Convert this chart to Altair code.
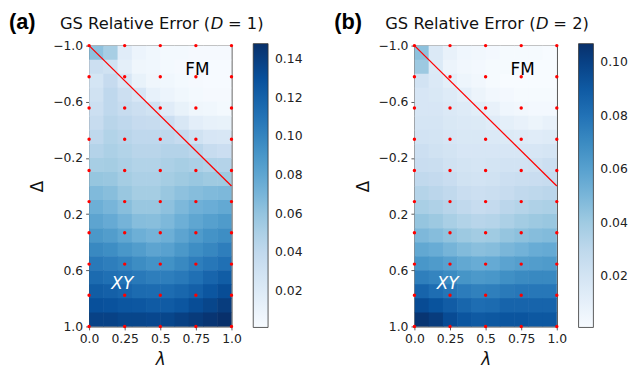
import altair as alt
import pandas as pd

# ---------------- data ----------------
lam_centers = [0.05, 0.15, 0.25, 0.35, 0.45, 0.55, 0.65, 0.75, 0.85, 0.95]
delta_centers = [-0.95, -0.85, -0.75, -0.65, -0.55, -0.45, -0.35, -0.25, -0.15, -0.05,
                 0.05, 0.15, 0.25, 0.35, 0.45, 0.55, 0.65, 0.75, 0.85, 0.95]

# GS relative error (in %), rows = Delta (top to bottom), cols = lambda
err_a_pct = [
    [6.2, 5.2, 1.8, 0.9, 0.6, 0.4, 0.4, 0.3, 0.3, 0.3],
    [3.3, 3.0, 1.5, 0.7, 0.6, 0.4, 0.3, 0.3, 0.2, 0.2],
    [2.7, 3.8, 2.5, 1.2, 0.7, 0.6, 0.4, 0.3, 0.2, 0.2],
    [3.0, 4.1, 3.3, 2.5, 1.3, 0.9, 0.6, 0.4, 0.3, 0.3],
    [3.3, 4.1, 3.7, 3.3, 3.0, 1.8, 1.2, 0.7, 0.6, 0.4],
    [3.7, 4.4, 4.1, 3.8, 3.7, 3.4, 2.4, 1.6, 1.3, 1.2],
    [4.1, 4.7, 4.4, 4.1, 4.1, 4.1, 3.8, 3.0, 2.5, 2.4],
    [4.6, 5.0, 4.7, 4.4, 4.4, 4.6, 4.6, 4.3, 3.7, 3.4],
    [5.2, 5.3, 5.0, 4.7, 4.7, 5.0, 5.2, 5.0, 4.7, 4.6],
    [5.9, 5.8, 5.3, 5.0, 5.0, 5.3, 5.6, 5.8, 5.6, 5.6],
    [6.7, 6.4, 5.8, 5.3, 5.3, 5.8, 6.2, 6.5, 6.7, 6.8],
    [7.4, 7.0, 6.4, 5.8, 5.8, 6.2, 6.8, 7.3, 7.5, 7.8],
    [8.1, 7.7, 7.1, 6.5, 6.4, 6.8, 7.4, 8.0, 8.4, 8.7],
    [8.9, 8.6, 8.0, 7.4, 7.1, 7.4, 8.1, 8.7, 9.2, 9.5],
    [9.8, 9.5, 9.0, 8.6, 8.1, 8.3, 8.9, 9.5, 9.9, 10.4],
    [10.7, 10.4, 10.1, 9.6, 9.2, 9.3, 9.8, 10.4, 10.8, 11.2],
    [11.5, 11.2, 11.0, 10.7, 10.4, 10.4, 10.7, 11.2, 11.8, 12.3],
    [12.3, 12.1, 11.8, 11.5, 11.4, 11.4, 11.7, 12.1, 12.7, 13.2],
    [13.0, 12.9, 12.7, 12.6, 12.4, 12.4, 12.7, 13.2, 13.6, 14.1],
    [13.8, 13.8, 13.6, 13.6, 13.5, 13.6, 13.9, 14.2, 14.5, 14.8],
]

err_b_pct = [
    [4.5, 1.6, 0.9, 0.5, 0.4, 0.3, 0.2, 0.2, 0.2, 0.1],
    [4.1, 1.5, 0.7, 0.4, 0.3, 0.2, 0.2, 0.1, 0.1, 0.1],
    [2.1, 1.6, 1.1, 0.6, 0.4, 0.2, 0.1, 0.1, 0.1, 0.1],
    [1.8, 1.7, 1.4, 1.1, 0.7, 0.4, 0.3, 0.2, 0.2, 0.2],
    [1.8, 1.8, 1.6, 1.4, 1.2, 0.9, 0.5, 0.4, 0.3, 0.3],
    [1.9, 1.9, 1.7, 1.6, 1.5, 1.3, 1.1, 0.9, 0.7, 0.9],
    [2.1, 2.0, 1.8, 1.7, 1.7, 1.6, 1.5, 1.4, 1.3, 1.4],
    [2.4, 2.2, 2.0, 1.8, 1.8, 1.8, 1.8, 1.8, 1.8, 1.9],
    [2.6, 2.5, 2.2, 2.0, 1.9, 2.0, 2.1, 2.1, 2.2, 2.4],
    [2.9, 2.8, 2.6, 2.2, 2.1, 2.2, 2.4, 2.5, 2.6, 2.7],
    [3.3, 3.1, 2.9, 2.6, 2.4, 2.5, 2.7, 2.9, 3.0, 3.1],
    [3.7, 3.5, 3.2, 2.9, 2.7, 2.8, 3.1, 3.3, 3.5, 3.6],
    [4.3, 4.1, 3.7, 3.4, 3.2, 3.3, 3.6, 3.9, 4.1, 4.2],
    [4.9, 4.7, 4.4, 4.1, 3.9, 4.0, 4.3, 4.5, 4.7, 4.8],
    [5.7, 5.5, 5.1, 4.8, 4.6, 4.7, 5.0, 5.2, 5.5, 5.6],
    [6.5, 6.3, 6.0, 5.7, 5.5, 5.6, 5.9, 6.1, 6.2, 6.3],
    [7.5, 7.3, 7.0, 6.6, 6.4, 6.5, 6.8, 7.0, 7.1, 7.1],
    [8.6, 8.2, 7.9, 7.6, 7.4, 7.5, 7.7, 7.8, 7.8, 7.8],
    [9.6, 9.3, 8.9, 8.5, 8.2, 8.3, 8.6, 8.6, 8.6, 8.6],
    [10.5, 10.2, 9.6, 9.2, 9.0, 9.1, 9.2, 9.2, 9.1, 9.1],
]

dot_lam = [0.0, 0.25, 0.5, 0.75, 1.0]
dot_delta = [-1.0, -0.778, -0.556, -0.333, -0.111, 0.111, 0.333, 0.556, 0.778, 1.0]

line_lam = [0.0, 1.0]
line_delta = [-1.0, 0.0]

x_ticks = [0.0, 0.25, 0.5, 0.75, 1.0]
y_ticks = [-1.0, -0.6, -0.2, 0.2, 0.6, 1.0]

cbar_a_ticks = [0.02, 0.04, 0.06, 0.08, 0.10, 0.12, 0.14]
cbar_b_ticks = [0.02, 0.04, 0.06, 0.08, 0.10]
cbar_a_domain = [0.0012, 0.148]
cbar_b_domain = [0.0009, 0.107]

# matplotlib "Blues" colormap anchor colours
blues = ["#f7fbff", "#deebf7", "#c6dbef", "#9ecae1", "#6baed6",
         "#4292c6", "#2171b5", "#08519c", "#08306b"]

labels_phase = ["FM", "XY"]
phase_lam = [0.76, 0.233]
phase_delta = [-0.826, 0.70]

# ---------------- chart ----------------
W, H = 144, 284
HALF = 0.05
OVER = 0.004


def panel(err_pct, cdomain, cticks, tag, dval):
    rows = []
    for i, d in enumerate(delta_centers):
        for j, l in enumerate(lam_centers):
            rows.append(dict(l0=l - HALF, l1=l + HALF + OVER, d0=d - HALF, d1=d + HALF + OVER,
                             err=err_pct[i][j] / 100.0))
    df = pd.DataFrame(rows)

    xs = alt.Scale(domain=[0, 1], nice=False, zero=False)
    ys = alt.Scale(domain=[-1, 1], reverse=True, nice=False, zero=False)
    lo, hi = cdomain
    n = len(blues)
    stops = [lo + (hi - lo) * k / (n - 1) for k in range(n)]
    cs = alt.Scale(domain=stops, range=blues, interpolate="rgb", clamp=True)

    xax = alt.Axis(values=x_ticks, grid=False, title="λ", titleFontStyle="italic",
                   labelExpr="datum.value == 0 ? '0.0' : datum.value == 1 ? '1.0' : '' + datum.value",
                   titlePadding=6, labelFlush=False)
    yax = alt.Axis(values=y_ticks, grid=False, format=".1f", title="Δ", titlePadding=6,
                   labelFlush=False)

    heat = alt.Chart(df).mark_rect(clip=True).encode(
        x=alt.X("l0:Q", scale=xs, axis=xax),
        x2="l1:Q",
        y=alt.Y("d0:Q", scale=ys, axis=yax),
        y2="d1:Q",
        color=alt.Color("err:Q", scale=cs, legend=alt.Legend(
            type="gradient",
            orient="none", legendX=W + 22, legendY=-2, direction="vertical",
            gradientLength=287, gradientThickness=15, values=cticks, format=".2f",
            title=None, labelFontSize=12.5, labelFont="DejaVu Sans", labelColor="#222",
            labelOffset=7, labelOverlap=False, gradientStrokeColor="#333",
            gradientStrokeWidth=0.8, padding=0)),
    )

    ldf = pd.DataFrame({"lam": line_lam, "delta": line_delta})
    line = alt.Chart(ldf).mark_line(color="#ff0000", strokeWidth=1.3).encode(
        x=alt.X("lam:Q", scale=xs, axis=xax),
        y=alt.Y("delta:Q", scale=ys, axis=yax),
    )

    ddf = pd.DataFrame([(l, d) for d in dot_delta for l in dot_lam], columns=["lam", "delta"])
    dots = alt.Chart(ddf).mark_circle(color="#ff0000", size=12, opacity=1).encode(
        x=alt.X("lam:Q", scale=xs, axis=xax),
        y=alt.Y("delta:Q", scale=ys, axis=yax),
    )

    pdf = pd.DataFrame({"lab": labels_phase, "lam": phase_lam, "delta": phase_delta})
    fm = alt.Chart(pdf.iloc[[0]]).mark_text(font="DejaVu Sans", fontSize=17, color="black").encode(
        x=alt.X("lam:Q", scale=xs, axis=xax), y=alt.Y("delta:Q", scale=ys, axis=yax), text="lab:N")
    xy = alt.Chart(pdf.iloc[[1]]).mark_text(font="DejaVu Sans", fontSize=17, color="white",
                                            fontStyle="italic").encode(
        x=alt.X("lam:Q", scale=xs, axis=xax), y=alt.Y("delta:Q", scale=ys, axis=yax), text="lab:N")

    tag_t = alt.Chart(pd.DataFrame({"t": [tag]})).mark_text(
        font="Liberation Sans", fontSize=22, fontWeight="bold",
        align="left", baseline="alphabetic", color="black").encode(
        text="t:N", x=alt.value(-81), y=alt.value(-17))
    t1 = alt.Chart(pd.DataFrame({"t": ["GS Relative Error ("]})).mark_text(
        font="DejaVu Sans", fontSize=16.5, align="right", baseline="alphabetic", color="#111").encode(
        text="t:N", x=alt.value(122.5), y=alt.value(-17))
    t2 = alt.Chart(pd.DataFrame({"t": ["D"]})).mark_text(
        font="DejaVu Sans", fontSize=16.5, fontStyle="italic", align="left", baseline="alphabetic",
        color="#111").encode(text="t:N", x=alt.value(123), y=alt.value(-17))
    t3 = alt.Chart(pd.DataFrame({"t": ["= " + dval + ")"]})).mark_text(
        font="DejaVu Sans", fontSize=16.5, align="left", baseline="alphabetic", color="#111").encode(
        text="t:N", x=alt.value(140.5), y=alt.value(-17))

    return alt.layer(heat, line, dots, fm, xy, tag_t, t1, t2, t3).properties(width=W, height=H)


pa = panel(err_a_pct, cbar_a_domain, cbar_a_ticks, "(a)", "1")
pb = panel(err_b_pct, cbar_b_domain, cbar_b_ticks, "(b)", "2")

chart = alt.hconcat(pa, pb, spacing=185, bounds="flush", padding=0).resolve_scale(
    color="independent"
).configure_view(stroke="#333", strokeWidth=1).configure_axis(
    labelFont="DejaVu Sans", labelFontSize=12.5, labelColor="#222",
    titleFont="DejaVu Sans", titleFontSize=17, titleFontWeight="normal", titleColor="#111",
    tickSize=3.5, tickColor="#333", tickWidth=0.8, domain=False, labelPadding=3,
)

chart.save("out.html", embed_options={"renderer": "svg", "actions": False})
